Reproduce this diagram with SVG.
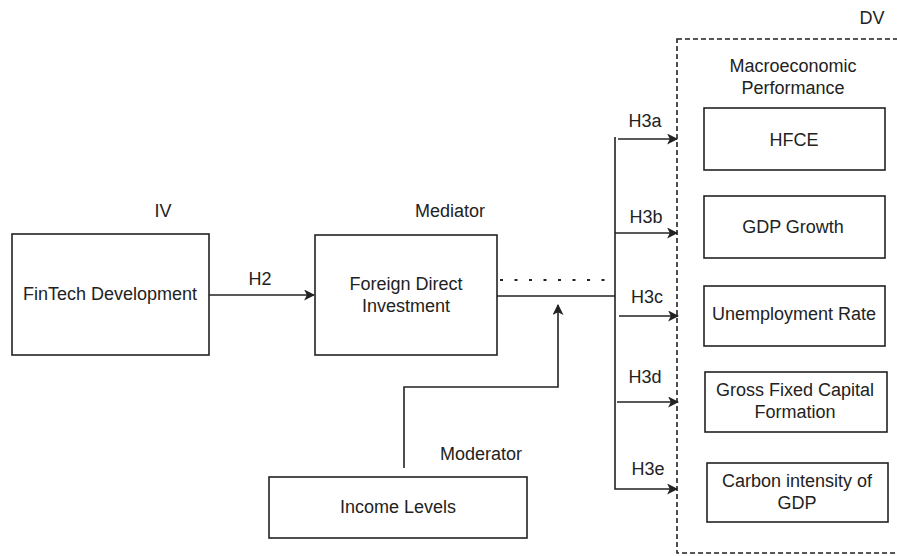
<svg xmlns="http://www.w3.org/2000/svg" width="897" height="556" viewBox="0 0 897 556">
<style>
text{font-family:"Liberation Sans",Arial,sans-serif;font-size:18px;fill:#222;text-anchor:middle}
.box{fill:#fff;stroke:#222;stroke-width:1.6}
.ln{fill:none;stroke:#222;stroke-width:1.6}
</style>
<defs>
<marker id="ah" viewBox="0 0 10 10" refX="9" refY="5" markerWidth="11" markerHeight="11" markerUnits="userSpaceOnUse" orient="auto">
<path d="M0,0 L10,5 L0,10 L2.5,5 Z" fill="#222"/>
</marker>
</defs>
<rect width="897" height="556" fill="#fff"/>
<g id="dv-group">
<rect x="677" y="39" width="240" height="514" fill="none" stroke="#222" stroke-width="1.6" stroke-dasharray="5 3"/>
<text x="872" y="24">DV</text>
<text x="793" y="72">Macroeconomic</text>
<text x="793" y="94">Performance</text>
</g>
<g id="connectors">
<line class="ln" x1="209" y1="295" x2="314" y2="295" marker-end="url(#ah)"/>
<text x="260" y="285">H2</text>
<line x1="500" y1="280" x2="613" y2="280" stroke="#222" stroke-width="2.2" stroke-dasharray="3 11.5"/>
<polyline class="ln" points="497,296 615,296"/>
<polyline class="ln" points="615,137 615,489 677,489" marker-end="url(#ah)"/>
<line class="ln" x1="618" y1="139" x2="677" y2="139" marker-end="url(#ah)"/>
<line class="ln" x1="615" y1="233" x2="677" y2="233" marker-end="url(#ah)"/>
<line class="ln" x1="619" y1="316" x2="678" y2="316" marker-end="url(#ah)"/>
<line class="ln" x1="617" y1="402" x2="678" y2="402" marker-end="url(#ah)"/>
<text x="645" y="127">H3a</text>
<text x="646" y="223">H3b</text>
<text x="647" y="303">H3c</text>
<text x="645" y="383">H3d</text>
<text x="648" y="475">H3e</text>
<polyline class="ln" points="404,468 404,387 558,387 558,305" marker-end="url(#ah)"/>
</g>
<g id="iv">
<rect class="box" x="12" y="234" width="197" height="121"/>
<text x="110" y="300">FinTech Development</text>
<text x="163" y="217">IV</text>
</g>
<g id="mediator">
<rect class="box" x="315" y="235" width="182" height="120"/>
<text x="406" y="290">Foreign Direct</text>
<text x="406" y="312">Investment</text>
<text x="450" y="217">Mediator</text>
</g>
<g id="moderator">
<rect class="box" x="269" y="477" width="258" height="61"/>
<text x="398" y="513">Income Levels</text>
<text x="481" y="460">Moderator</text>
</g>
<g id="hfce">
<rect class="box" x="704" y="108" width="181" height="62"/>
<text x="794" y="146">HFCE</text>
</g>
<g id="gdp-growth">
<rect class="box" x="704" y="196" width="181" height="62"/>
<text x="793" y="233">GDP Growth</text>
</g>
<g id="unemployment">
<rect class="box" x="704" y="286" width="181" height="60"/>
<text x="794" y="320">Unemployment Rate</text>
</g>
<g id="gfcf">
<rect class="box" x="705" y="372" width="182" height="60"/>
<text x="795" y="396">Gross Fixed Capital</text>
<text x="795" y="418">Formation</text>
</g>
<g id="carbon">
<rect class="box" x="707" y="463" width="181" height="59"/>
<text x="797" y="487">Carbon intensity of</text>
<text x="797" y="509">GDP</text>
</g>
</svg>
